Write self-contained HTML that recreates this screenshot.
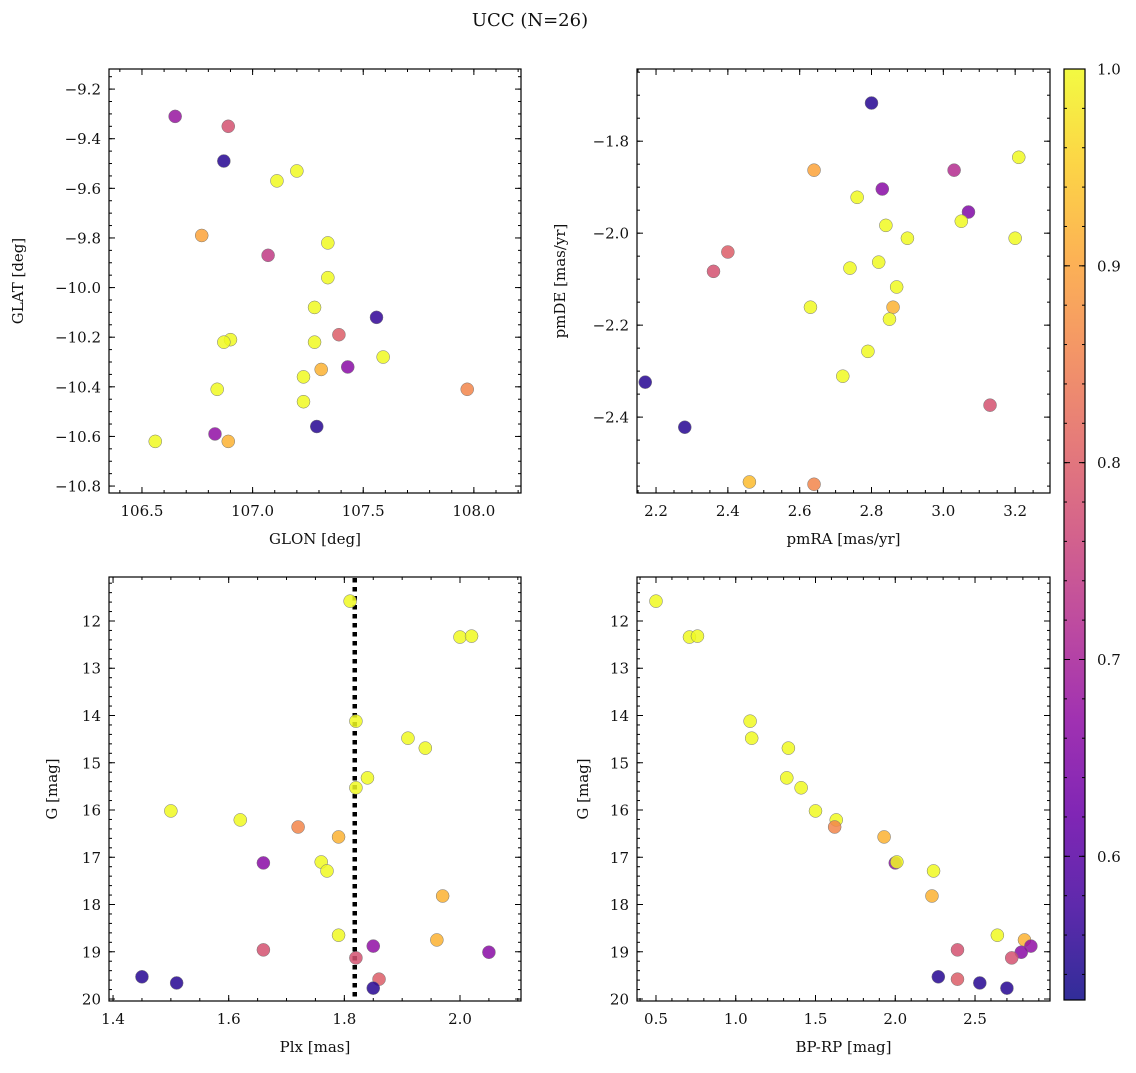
<!DOCTYPE html>
<html><head><meta charset="utf-8"><style>
html,body{margin:0;padding:0;background:#fff;}
svg text{font-family:"DejaVu Serif","Liberation Serif",serif;fill:#111;}
</style></head><body>
<svg id="fig" width="1136" height="1068" xmlns="http://www.w3.org/2000/svg">
<text x="530" y="26" font-size="18" text-anchor="middle">UCC (N=26)</text>
</svg>
<script>
// Panel 1: GLON / GLAT
const glon=[106.65,106.89,106.87,107.20,107.11,106.77,107.07,107.34,107.34,107.28,107.56,107.39,106.90,106.87,107.28,107.59,107.31,107.43,107.23,106.84,107.97,107.23,107.29,106.83,106.89,106.56];
const glat=[-9.31,-9.35,-9.49,-9.53,-9.57,-9.79,-9.87,-9.82,-9.96,-10.08,-10.12,-10.19,-10.21,-10.22,-10.22,-10.28,-10.33,-10.32,-10.36,-10.41,-10.41,-10.46,-10.56,-10.59,-10.62,-10.62];
const prob1=[0.68,0.78,0.55,1,1,0.9,0.74,1,1,1,0.56,0.8,1,1,1,1,0.92,0.66,1,1,0.86,1,0.55,0.67,0.92,1];
// Panel 2: pmRA / pmDE
const pmra=[2.80,3.21,3.03,2.64,2.83,2.76,3.07,3.05,2.84,2.90,3.20,2.40,2.36,2.74,2.82,2.87,2.63,2.86,2.85,2.79,2.72,2.17,3.13,2.28,2.46,2.64];
const pmde=[-1.717,-1.835,-1.863,-1.863,-1.904,-1.922,-1.954,-1.974,-1.983,-2.011,-2.011,-2.041,-2.083,-2.076,-2.063,-2.117,-2.161,-2.161,-2.187,-2.257,-2.311,-2.324,-2.374,-2.422,-2.541,-2.546];
const prob2=[0.55,1,0.72,0.9,0.66,1,0.65,1,1,1,1,0.8,0.78,1,1,1,1,0.92,1,1,1,0.55,0.78,0.55,0.93,0.86];
// Panel 3 & 4: Plx, BP-RP, G
const plx=[1.81,2.00,2.02,1.82,1.91,1.94,1.84,1.82,1.50,1.62,1.72,1.79,1.66,1.76,1.77,1.97,1.79,1.96,1.85,1.66,2.05,1.82,1.86,1.45,1.51,1.85];
const bprp=[0.50,0.71,0.76,1.09,1.10,1.33,1.32,1.41,1.50,1.63,1.62,1.93,2.00,2.01,2.24,2.23,2.64,2.81,2.85,2.39,2.79,2.73,2.39,2.27,2.53,2.70];
const gmag=[11.58,12.34,12.32,14.12,14.48,14.69,15.32,15.53,16.02,16.21,16.36,16.57,17.12,17.10,17.29,17.82,18.65,18.75,18.88,18.96,19.01,19.13,19.58,19.53,19.66,19.77];
const prob3=[1,1,1,1,1,1,1,1,1,1,0.86,0.92,0.66,1,1,0.92,1,0.92,0.67,0.78,0.66,0.78,0.8,0.55,0.55,0.55];
const plxLine=[1.818];
const cbTicks=[0.6,0.7,0.8,0.9,1.0];

const NS="http://www.w3.org/2000/svg";
const svg=document.getElementById('fig');
function mk(tag,attrs,parent){const e=document.createElementNS(NS,tag);for(const k in attrs)e.setAttribute(k,attrs[k]);(parent||svg).appendChild(e);return e;}
const stops=["#0d0887","#41049d","#6a00a8","#8f0da4","#b12a90","#cc4778","#e16462","#f2844b","#fca636","#fcce25","#f0f921"];
function hex(h){return [1,3,5].map(i=>parseInt(h.substr(i,2),16));}
const VMIN=0.527,VMAX=1.0;
function plasma(t){t=Math.max(0,Math.min(1,t));const f=t*10,i=Math.min(9,Math.floor(f)),r=f-i;const a=hex(stops[i]),b=hex(stops[i+1]);return 'rgb('+a.map((v,k)=>Math.round(v+(b[k]-v)*r)).join(',')+')';}
function cmap(p){return plasma((p-VMIN)/(VMAX-VMIN));}

function panel(cfg){
  const {name,x0,x1,y0,y1,xmin,xmax,ymin,ymax,xmaj,xmin_,ymaj,ymin_,xdec,ydec,xlabel,ylabel,invert,yoff}=cfg;
  const g=mk('g',{});
  
  
  const sx=v=>x0+(v-xmin)/(xmax-xmin)*(x1-x0);
  const sy=invert?(v=>y0+(v-ymin)/(ymax-ymin)*(y1-y0)):(v=>y1-(v-ymin)/(ymax-ymin)*(y1-y0));
  const eps=1e-9;
  const ticks=(lo,hi,step)=>{const r=[];for(let v=Math.ceil((lo-eps)/step)*step;v<=hi+eps;v+=step)r.push(Math.round(v/step)*step);return r;};
  ticks(xmin,xmax,xmin_).forEach(v=>{const x=sx(v);mk('line',{x1:x,x2:x,y1:y1,y2:y1-3,stroke:'#000','stroke-width':1},g);mk('line',{x1:x,x2:x,y1:y0,y2:y0+3,stroke:'#000','stroke-width':1},g);});
  ticks(Math.min(ymin,ymax),Math.max(ymin,ymax),ymin_).forEach(v=>{const y=sy(v);mk('line',{x1:x0,x2:x0+3,y1:y,y2:y,stroke:'#000','stroke-width':1},g);mk('line',{x1:x1,x2:x1-3,y1:y,y2:y,stroke:'#000','stroke-width':1},g);});
  ticks(xmin,xmax,xmaj).forEach(v=>{const x=sx(v);mk('line',{x1:x,x2:x,y1:y1,y2:y1-6,stroke:'#000','stroke-width':1},g);mk('line',{x1:x,x2:x,y1:y0,y2:y0+6,stroke:'#000','stroke-width':1},g);
    const t=mk('text',{x:x,y:y1+23,'font-size':15,'text-anchor':'middle'},g);t.textContent=v.toFixed(xdec);
    
    });
  ticks(Math.min(ymin,ymax),Math.max(ymin,ymax),ymaj).forEach(v=>{const y=sy(v);mk('line',{x1:x0,x2:x0+6,y1:y,y2:y,stroke:'#000','stroke-width':1},g);mk('line',{x1:x1,x2:x1-6,y1:y,y2:y,stroke:'#000','stroke-width':1},g);
    const t=mk('text',{x:x0-8,y:y+5.5,'font-size':15,'text-anchor':'end'},g);t.textContent=(v<0?'\u2212':'')+Math.abs(v).toFixed(ydec);
    
    });
  mk('rect',{x:x0,y:y0,width:x1-x0,height:y1-y0,fill:'none',stroke:'#000','stroke-width':1.2},g);
  const xl=mk('text',{x:(x0+x1)/2,y:y1+51,'font-size':15,'text-anchor':'middle'},g);xl.textContent=xlabel;
  
  
  const cx=x0-yoff,cy=(y0+y1)/2;
  const yl=mk('text',{x:cx,y:cy,'font-size':15,'text-anchor':'middle',transform:'rotate(-90 '+cx+' '+cy+')'},g);yl.textContent=ylabel;
  
  
  return {g,sx,sy};
}
function scatter(p,xs,ys,ps){
  xs.forEach((v,i)=>{const c=mk('circle',{cx:p.sx(v),cy:p.sy(ys[i]),r:6.5,fill:cmap(ps[i]),'fill-opacity':0.85,stroke:'#777','stroke-width':0.5},p.g);
    
    });
}
const p1=panel({name:'glon-glat-panel',x0:109,x1:521,y0:69,y1:493,xmin:106.351,xmax:108.213,ymin:-10.828,ymax:-9.119,xmaj:0.5,xmin_:0.1,ymaj:0.2,ymin_:0.05,xdec:1,ydec:1,xlabel:'GLON [deg]',ylabel:'GLAT [deg]',yoff:86});
scatter(p1,glon,glat,prob1);
const p2=panel({name:'proper-motion-panel',x0:637,x1:1050,y0:69,y1:493,xmin:2.147,xmax:3.297,ymin:-2.565,ymax:-1.643,xmaj:0.2,xmin_:0.05,ymaj:0.2,ymin_:0.05,xdec:1,ydec:1,xlabel:'pmRA [mas/yr]',ylabel:'pmDE [mas/yr]',yoff:72});
scatter(p2,pmra,pmde,prob2);
const p3=panel({name:'parallax-panel',x0:109,x1:521,y0:577,y1:1001,xmin:1.393,xmax:2.1055,ymin:11.069,ymax:20.042,xmaj:0.2,xmin_:0.05,ymaj:1,ymin_:0.2,xdec:1,ydec:0,xlabel:'Plx [mas]',ylabel:'G [mag]',invert:true,yoff:52});
plxLine.forEach(v=>{const l=mk('line',{x1:p3.sx(v),x2:p3.sx(v),y1:578,y2:1000,stroke:'#000','stroke-width':4.5,'stroke-dasharray':'4.5,4.5'},p3.g);
  
  });
scatter(p3,plx,gmag,prob3);
const p4=panel({name:'cmd-panel',x0:637,x1:1050,y0:577,y1:1001,xmin:0.381,xmax:2.970,ymin:11.069,ymax:20.042,xmaj:0.5,xmin_:0.1,ymaj:1,ymin_:0.2,xdec:1,ydec:0,xlabel:'BP-RP [mag]',ylabel:'G [mag]',invert:true,yoff:49});
scatter(p4,bprp,gmag,prob3);
const cb=mk('g',{});


const defs=mk('defs',{},cb);
const lg=mk('linearGradient',{id:'cbg',x1:0,y1:1,x2:0,y2:0},defs);
stops.forEach((s,i)=>mk('stop',{offset:(i*10)+'%','stop-color':s,'stop-opacity':0.85},lg));
const CY0=69,CY1=1000,CX0=1064,CX1=1085;
const cys=v=>CY1-(v-VMIN)/(VMAX-VMIN)*(CY1-CY0);
mk('rect',{x:CX0,y:CY0,width:CX1-CX0,height:CY1-CY0,fill:'url(#cbg)'},cb);
for(let v=0.54;v<=1.0001;v+=0.02){const y=cys(v);mk('line',{x1:CX1,x2:CX1-3,y1:y,y2:y,stroke:'#000'},cb);mk('line',{x1:CX0,x2:CX0+3,y1:y,y2:y,stroke:'#000'},cb);}
cbTicks.forEach(v=>{const y=cys(v);mk('line',{x1:CX1,x2:CX1-6,y1:y,y2:y,stroke:'#000'},cb);mk('line',{x1:CX0,x2:CX0+6,y1:y,y2:y,stroke:'#000'},cb);
  const t=mk('text',{x:CX1+12,y:y+5.5,'font-size':15},cb);t.textContent=v.toFixed(1);
  
  });
mk('rect',{x:CX0,y:CY0,width:CX1-CX0,height:CY1-CY0,fill:'none',stroke:'#000','stroke-width':1.2},cb);
</script>
</body></html>
